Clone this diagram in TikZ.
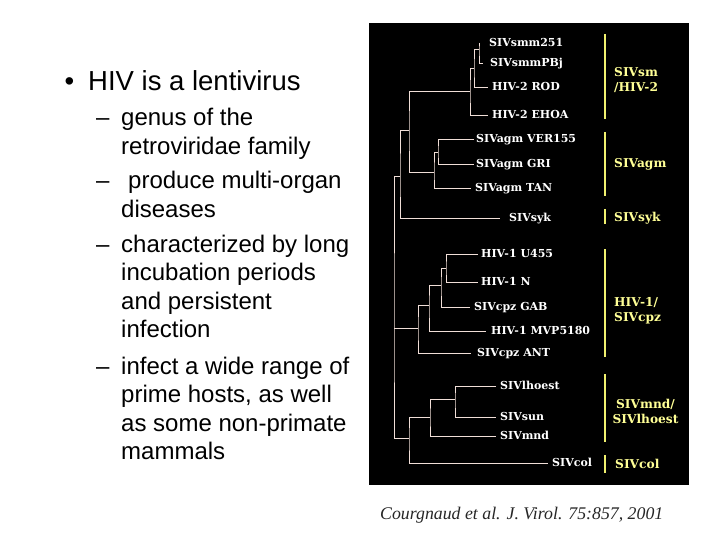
\documentclass[tikz,border=0pt]{standalone}
\usepackage{fontspec}
\setmainfont{Liberation Sans}
\newfontfamily\treefont{DejaVu Serif}
\newfontfamily\capfont{Liberation Serif}
\definecolor{treeline}{RGB}{240,222,215}
\definecolor{labyellow}{RGB}{255,255,150}
\definecolor{baryellow}{RGB}{240,240,110}
\tikzset{
  leaf/.style={anchor=west, text=white, font=\treefont\bfseries\fontsize{11}{13}\selectfont, inner ysep=0pt, text height=7.6pt, text depth=0pt},
  branch/.style={draw=treeline, line width=0.9pt},
  grp/.style={text=labyellow, font=\treefont\bfseries\fontsize{12.2}{15}\selectfont, inner sep=0pt},
  bar/.style={draw=baryellow, line width=1.8pt},
  main/.style={anchor=base west, inner sep=0pt, font=\fontsize{27.5}{30}\selectfont},
  sub/.style={anchor=base west, inner sep=0pt, font=\fontsize{24}{28}\selectfont},
}
\begin{document}
\begin{tikzpicture}[x=1pt,y=-1pt]
\useasboundingbox (0,0) rectangle (720,540);
\fill[black] (369,23) rectangle (689,485);

% ---------- left text ----------
\node[main] (b0) at (64.5,91) {\textbullet};
\node[main] (t0) at (88,91) {HIV is a lentivirus};
\node[sub] (d1) at (96,126) {–};
\node[sub] (t1) at (121,126) {genus of the};
\node[sub] (t1b) at (121,154.5) {retroviridae family};
\node[sub] (d2) at (96,189) {–};
\node[sub] (t2) at (128,189) {produce multi-organ};
\node[sub] (t2b) at (121,217.5) {diseases};
\node[sub] (d3) at (96,252) {–};
\node[sub] (t3) at (121,252) {characterized by long};
\node[sub] (t3b) at (121,280.5) {incubation periods};
\node[sub] (t3c) at (121,309) {and persistent};
\node[sub] (t3d) at (121,337.5) {infection};
\node[sub] (d4) at (96,374) {–};
\node[sub] (t4) at (121,374) {infect a wide range of};
\node[sub] (t4b) at (121,402.5) {prime hosts, as well};
\node[sub] (t4c) at (121,431) {as some non-primate};
\node[sub] (t4d) at (121,459.5) {mammals};

% ---------- leaves ----------
\node[leaf, inner xsep=10pt] (smm251) at (479,43) {SIVsmm251};
\node[leaf, inner xsep=7pt] (pbj) at (483,63) {SIVsmmPBj};
\node[leaf, inner xsep=4pt] (rod) at (488,87) {HIV-2 ROD};
\node[leaf, inner xsep=4pt] (ehoa) at (488,115) {HIV-2 EHOA};
\node[leaf, inner xsep=2pt] (ver) at (474,139) {SIVagm VER155};
\node[leaf, inner xsep=2pt] (gri) at (474,164) {SIVagm GRI};
\node[leaf, inner xsep=4pt] (tan) at (471,188) {SIVagm TAN};
\node[leaf, inner xsep=9pt] (syk) at (500,218) {SIVsyk};
\node[leaf, inner xsep=3pt] (u455) at (478,254) {HIV-1 U455};
\node[leaf, inner xsep=3pt] (hn) at (478,282) {HIV-1 N};
\node[leaf, inner xsep=4pt] (gab) at (470,307) {SIVcpz GAB};
\node[leaf, inner xsep=5pt] (mvp) at (486,331) {HIV-1 MVP5180};
\node[leaf, inner xsep=6pt] (ant) at (471,353) {SIVcpz ANT};
\node[leaf, inner xsep=4pt] (lho) at (496,386) {SIVlhoest};
\node[leaf, inner xsep=4pt] (sun) at (496,417) {SIVsun};
\node[leaf, inner xsep=4pt] (mnd) at (496,436) {SIVmnd};
\node[leaf, inner xsep=4pt] (col) at (548,463) {SIVcol};

% ---------- internal nodes ----------
\coordinate (n1) at (479,49);
\coordinate (n2) at (474,68);
\coordinate (n3) at (470,91);
\coordinate (n4) at (438,152);
\coordinate (n5) at (434,172);
\coordinate (n6) at (409,130);
\coordinate (n7) at (400,176);
\coordinate (n8) at (446,268);
\coordinate (n9) at (441,285);
\coordinate (n10) at (429,305);
\coordinate (n11) at (418,328);
\coordinate (n12) at (455,399);
\coordinate (n13) at (430,417);
\coordinate (n14) at (409,438);
\coordinate (root) at (394,328);

\draw[branch] (smm251.west) -| (n1) |- (pbj.west);
\draw[branch] (n1) -| (n2) |- (rod.west);
\draw[branch] (n2) -| (n3) |- (ehoa.west);
\draw[branch] (ver.west) -| (n4) |- (gri.west);
\draw[branch] (n4) -| (n5) |- (tan.west);
\draw[branch] (n3) -| (n6) |- (n5);
\draw[branch] (n6) -| (n7) |- (syk.west);
\draw[branch] (u455.west) -| (n8) |- (hn.west);
\draw[branch] (n8) -| (n9) |- (gab.west);
\draw[branch] (n9) -| (n10) |- (mvp.west);
\draw[branch] (n10) -| (n11) |- (ant.west);
\draw[branch] (lho.west) -| (n12) |- (sun.west);
\draw[branch] (n12) -| (n13) |- (mnd.west);
\draw[branch] (n13) -| (n14) |- (col.west);
\draw[branch] (n7) -| (root) |- (n14);
\draw[branch] (root) -- (n11);

% ---------- group bars and labels ----------
\draw[bar] (605,34) -- (605,119);
\draw[bar] (605,132) -- (605,196);
\draw[bar] (605,209) -- (605,224);
\draw[bar] (605,249) -- (605,357);
\draw[bar] (605,374) -- (605,442);
\draw[bar] (605,455) -- (605,473);

\node[grp, anchor=west, align=left] (gsm) at (614,80.5) {SIVsm\\/HIV-2};
\node[grp, anchor=west] (gagm) at (614,164) {SIVagm};
\node[grp, anchor=west] (gsyk) at (614,218) {SIVsyk};
\node[grp, anchor=west, align=left] (gcpz) at (614,311) {HIV-1/\\SIVcpz};
\node[grp, align=center] (gmnd) at (645.5,411.5) {SIVmnd/\\SIVlhoest};
\node[grp, anchor=west] (gcol) at (615,464) {SIVcol};

% ---------- caption ----------
\node[anchor=base west, inner sep=0pt, text=black!85, font=\capfont\itshape\fontsize{17.8}{20}\selectfont] (cap) at (380,519) {Courgnaud et al. J. Virol. 75:857, 2001};
\end{tikzpicture}
\end{document}
